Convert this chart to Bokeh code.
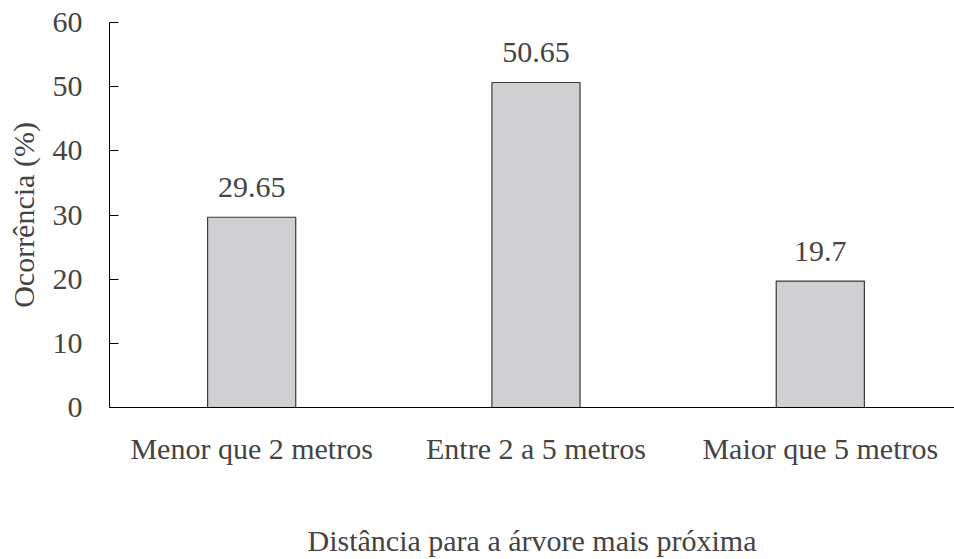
from bokeh.plotting import figure
from bokeh.models import Range1d, FixedTicker, ColumnDataSource, Label
from bokeh.embed import file_html
from bokeh.resources import INLINE

categories = ["Menor que 2 metros", "Entre 2 a 5 metros", "Maior que 5 metros"]
values = [29.65, 50.65, 19.7]
value_labels = ["29.65", "50.65", "19.7"]
y_ticks = [0, 10, 20, 30, 40, 50, 60]

FONT = "Liberation Serif"
FS = "30px"

xs = [i + 0.5 for i in range(len(categories))]
src = ColumnDataSource(dict(x=xs, top=values))

p = figure(width=954, height=559, output_backend="svg", toolbar_location=None,
           x_range=Range1d(0, 2.972), y_range=Range1d(0, 60),
           min_border_left=109, min_border_right=0, min_border_top=22, min_border_bottom=152)
p.outline_line_color = None
p.xgrid.visible = False
p.ygrid.visible = False

p.vbar(x="x", top="top", width=0.31, bottom=0, source=src,
       fill_color="#d0cfd1", line_color="#3a3a3a", line_width=1.2)

for x, v, t in zip(xs, values, value_labels):
    p.add_layout(Label(x=x, y=v, text=t, text_align="center", text_baseline="alphabetic",
                       y_offset=30, text_font=FONT, text_font_size=FS))

xa = p.xaxis[0]
xa.ticker = FixedTicker(ticks=xs)
xa.major_label_overrides = {x: c for x, c in zip(xs, categories)}
xa.major_tick_line_color = None
xa.major_label_standoff = 18
xa.major_label_text_font = FONT
xa.major_label_text_font_size = FS
xa.axis_label = "Distância para a árvore mais próxima"
xa.axis_label_text_font = FONT
xa.axis_label_text_font_size = FS
xa.axis_label_text_font_style = "normal"
xa.axis_label_standoff = 56

ya = p.yaxis[0]
ya.ticker = FixedTicker(ticks=y_ticks)
ya.major_tick_out = 0
ya.major_tick_in = 9
ya.major_label_standoff = 27
ya.major_label_text_font = FONT
ya.major_label_text_font_size = FS
ya.axis_label = "Ocorrência (%)"
ya.axis_label_text_font = FONT
ya.axis_label_text_font_size = FS
ya.axis_label_text_font_style = "normal"
ya.axis_label_standoff = 10

open("out.html", "w").write(file_html(p, INLINE))
